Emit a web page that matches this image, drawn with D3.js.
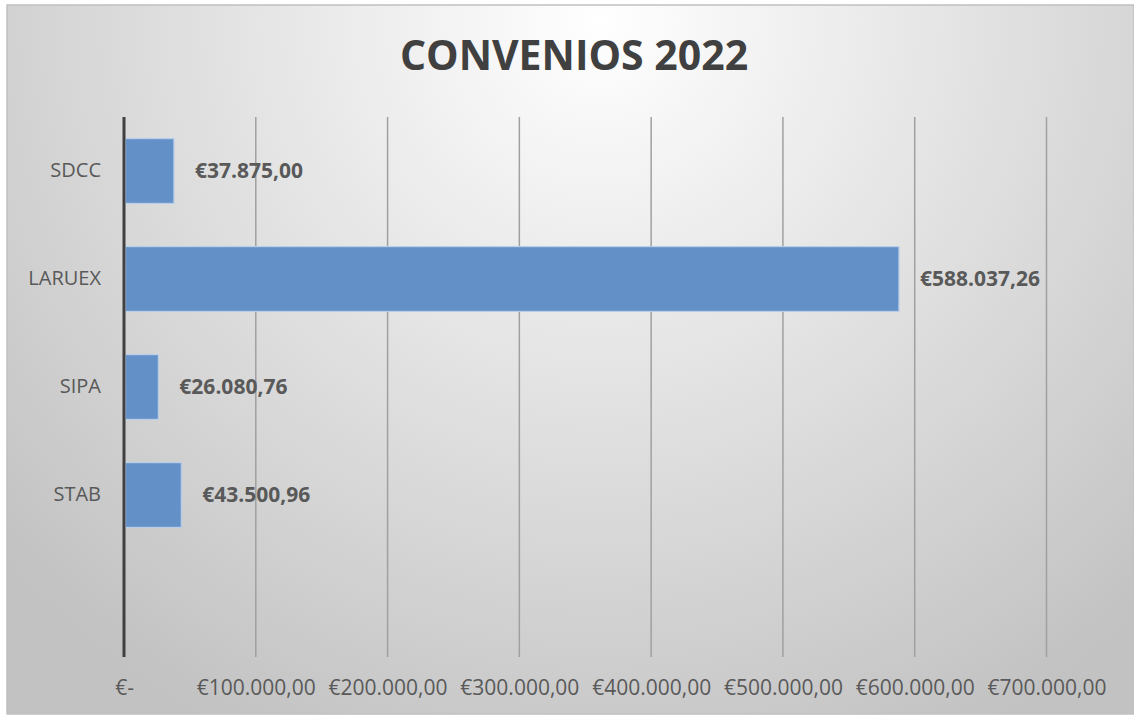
<!DOCTYPE html>
<html>
<head>
<meta charset="utf-8">
<script src="https://cdn.jsdelivr.net/npm/d3@7"></script>
<style>
  html, body { margin: 0; padding: 0; background: #ffffff; }
  svg { display: block; font-family: "Open Sans", sans-serif; }
</style>
</head>
<body>
<div id="chart"></div>
<script>
//Datos
const categorias = ['SDCC', 'LARUEX', 'SIPA', 'STAB', ''];
const valores = [37875.00, 588037.26, 26080.76, 43500.96, null];
const etiquetas = ['€37.875,00', '€588.037,26', '€26.080,76', '€43.500,96', ''];
const ticks = [0, 100000, 200000, 300000, 400000, 500000, 600000, 700000];
const tickLabels = ['€-', '€100.000,00', '€200.000,00', '€300.000,00', '€400.000,00', '€500.000,00', '€600.000,00', '€700.000,00'];
const titulo = 'CONVENIOS 2022';

//Colores
const COLOR_BAR = '#6390c6',
    COLOR_BAR_STROKE = '#b7cde9',
    COLOR_TEXT = '#595959',
    COLOR_TITLE = '#404040',
    COLOR_GRID = '#a0a0a0';

const W = 1134, H = 715;
let margin = {top: 117, right: 88, bottom: 58, left: 124},
    width = 1046.5 - margin.left,
    height = 657 - margin.top;

let svg = d3.select('#chart')
    .append('svg')
      .attr('width', W)
      .attr('height', H);

//Fondo con degradado
let defs = svg.append('defs');
let grad = defs.append('radialGradient')
    .attr('id', 'fondo')
    .attr('gradientUnits', 'userSpaceOnUse')
    .attr('cx', 600).attr('cy', 20).attr('r', 800);
grad.append('stop').attr('offset', '0%').attr('stop-color', '#ffffff');
grad.append('stop').attr('offset', '100%').attr('stop-color', '#c2c2c2');

svg.append('rect')
    .attr('x', 7).attr('y', 5)
    .attr('width', W - 7).attr('height', H - 6)
    .attr('fill', 'url(#fondo)')
    .attr('stroke', '#c0c0c0')
    .attr('stroke-width', 1.5);

//Título
svg.append('text')
    .attr('x', 574)
    .attr('y', 70)
    .attr('text-anchor', 'middle')
    .attr('font-size', 41)
    .attr('font-weight', 700)
    .attr('fill', COLOR_TITLE)
    .text(titulo);

let chart = svg.append('g')
    .attr('transform', 'translate(' + margin.left + ',' + margin.top + ')');

//Eje X
let x = d3.scaleLinear()
    .domain([0, 700000])
    .range([0, width]);

//Eje Y
let y = d3.scaleBand()
    .domain(categorias)
    .range([0, height])
    .paddingInner(0.4)
    .paddingOuter(0.2);

//Rejilla
chart.append('g')
    .attr('class', 'grid')
    .selectAll('line')
    .data(ticks.slice(1))
    .enter()
    .append('line')
      .attr('x1', function(d) { return x(d); })
      .attr('x2', function(d) { return x(d); })
      .attr('y1', 0)
      .attr('y2', height)
      .attr('stroke', COLOR_GRID)
      .attr('stroke-width', 1.5);

//Etiquetas eje X
let xAxis = d3.axisBottom(x)
    .tickValues(ticks)
    .tickSize(0)
    .tickPadding(23)
    .tickFormat(function(d, i) { return tickLabels[i]; });

chart.append('g')
    .attr('transform', 'translate(0,' + height + ')')
    .call(xAxis)
    .call(function(g) {
        g.select('.domain').remove();
        g.selectAll('text')
            .attr('font-size', 21)
            .attr('font-family', '"Open Sans", sans-serif')
            .attr('fill', COLOR_TEXT);
    });

//Barras
let datos = categorias.map(function(c, i) { return {cat: c, val: valores[i], label: etiquetas[i]}; })
    .filter(function(d) { return d.val != null; });

chart.append('g')
    .selectAll('rect')
    .data(datos)
    .enter()
    .append('rect')
      .attr('x', x(0) + 1.5)
      .attr('y', function(d) { return y(d.cat); })
      .attr('width', function(d) { return x(d.val) - x(0) - 1.5; })
      .attr('height', y.bandwidth())
      .attr('fill', COLOR_BAR)
      .attr('stroke', COLOR_BAR_STROKE)
      .attr('stroke-width', 1.2);

//Etiquetas de datos
chart.append('g')
    .selectAll('text')
    .data(datos)
    .enter()
    .append('text')
      .attr('x', function(d) { return x(d.val) + 21; })
      .attr('y', function(d) { return y(d.cat) + y.bandwidth() / 2; })
      .attr('dy', '0.35em')
      .attr('font-size', 21)
      .attr('font-weight', 700)
      .attr('fill', COLOR_TEXT)
      .text(function(d) { return d.label; });

//Eje Y
let yAxis = d3.axisLeft(y)
    .tickSize(0)
    .tickPadding(23);

chart.append('g')
    .call(yAxis)
    .call(function(g) {
        g.select('.domain').remove();
        g.selectAll('text')
            .attr('font-size', 20)
            .attr('font-family', '"Open Sans", sans-serif')
            .attr('fill', COLOR_TEXT);
    });

chart.append('line')
    .attr('x1', x(0)).attr('x2', x(0))
    .attr('y1', 0).attr('y2', height)
    .attr('stroke', '#404040')
    .attr('stroke-width', 3);
</script>
</body>
</html>
